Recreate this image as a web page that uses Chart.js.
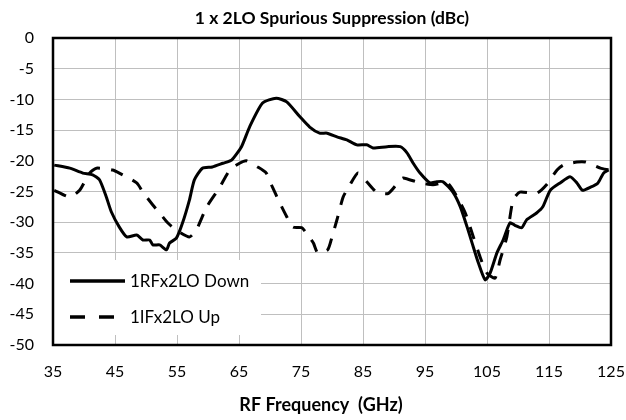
<!DOCTYPE html>
<html><head><meta charset="utf-8">
<script src="https://cdn.jsdelivr.net/npm/chart.js@4"></script>
<style>html,body{margin:0;padding:0;background:#fff}#wrap{width:626px;height:420px}</style>
</head><body><div id="wrap"><canvas id="c" width="626" height="420"></canvas></div>
<script>
const titleText = "1 x 2LO Spurious Suppression (dBc)";
const xTitle = "RF Frequency  (GHz)";
const seriesNames = ["1RFx2LO Down", "1IFx2LO Up"];
const xTicks = [35,45,55,65,75,85,95,105,115,125];
const yTicks = [0,-5,-10,-15,-20,-25,-30,-35,-40,-45,-50];

const downFreq = [35.2,37.7,39.8,41.4,42.5,43.6,44.4,45.7,46.9,48.5,49.5,50.6,51.1,52.2,53.3,53.8,54.9,55.9,57.0,57.8,59.1,60.7,62.4,63.8,65.4,66.7,68.8,71.0,72.7,74.8,76.4,78.0,79.2,80.8,82.4,84.0,85.6,86.6,88.9,91.0,92.1,93.1,94.2,95.8,96.9,97.9,99.5,100.7,101.8,102.6,103.6,104.7,105.5,106.6,107.6,108.7,109.5,110.6,111.4,113.0,114.0,115.2,116.8,118.4,119.5,120.4,121.7,122.9,123.8,124.6];
const downDb = [-20.7,-21.2,-22.0,-22.3,-23.1,-25.9,-28.3,-30.8,-32.4,-32.1,-32.9,-32.9,-33.7,-33.7,-34.5,-33.4,-32.6,-30.1,-26.4,-23.1,-21.2,-21.0,-20.4,-19.9,-17.7,-14.5,-10.6,-9.8,-10.4,-12.8,-14.5,-15.5,-15.5,-16.1,-16.6,-17.4,-17.4,-17.9,-17.7,-17.7,-18.7,-20.4,-22.0,-23.6,-23.4,-23.4,-25.1,-27.5,-30.8,-33.4,-36.6,-39.4,-38.3,-35.0,-32.9,-30.1,-30.5,-30.9,-29.6,-28.5,-27.5,-24.8,-23.6,-22.6,-23.6,-24.8,-24.3,-23.6,-22.0,-21.5];

const upFreq = [35.2,37.7,39.3,40.9,42.0,44.6,45.7,48.5,49.5,51.1,52.2,53.5,54.9,57.0,58.1,59.8,61.9,63.5,65.1,66.2,68.0,69.4,70.4,71.6,72.7,73.7,75.1,75.9,77.0,77.7,79.3,80.0,80.8,81.8,82.9,84.2,85.6,87.2,89.1,91.0,91.5,94.2,96.3,98.6,100.2,101.5,102.8,103.9,105.0,106.3,107.1,108.2,109.2,110.3,113.0,114.6,116.3,117.3,119.5,120.9,123.3,124.6];
const upDb = [-24.8,-25.9,-24.8,-22.0,-21.2,-21.5,-22.0,-23.6,-25.1,-27.2,-28.5,-30.1,-31.3,-32.4,-31.3,-27.5,-24.3,-21.5,-20.4,-20.0,-21.0,-22.0,-24.3,-26.9,-29.1,-30.8,-30.9,-31.8,-33.4,-35.0,-34.5,-32.4,-29.6,-25.9,-23.9,-22.0,-23.4,-25.1,-25.3,-23.1,-22.8,-23.6,-23.9,-23.6,-25.9,-28.5,-32.4,-35.7,-38.3,-39.1,-36.2,-32.4,-26.4,-25.1,-25.3,-23.9,-21.5,-20.7,-20.2,-20.2,-21.2,-21.5];

const FONT = "Lato";
const toPts = (xs, ys) => xs.map((x, i) => ({x: x, y: ys[i]}));

const frame = {
  id: 'frame',
  afterDatasetsDraw(chart) {
    const {ctx, chartArea: a} = chart;
    ctx.save();
    // legend box (inside the plot, lower left)
    const lx = a.left + 1, ly = a.top + 222, lw = 207, lh = 75;
    ctx.fillStyle = '#fff';
    ctx.fillRect(lx, ly, lw, lh);
    ctx.strokeStyle = '#000';
    ctx.lineWidth = 3.5;
    ctx.lineCap = 'butt';
    ctx.font = '17px ' + FONT;
    ctx.fillStyle = '#000';
    ctx.textBaseline = 'middle';
    ctx.textAlign = 'left';
    const rows = [a.top + 243, a.top + 279];
    rows.forEach((yy, i) => {
      ctx.setLineDash(i === 0 ? [] : [15, 14]);
      ctx.beginPath();
      ctx.moveTo(a.left + 17, yy);
      ctx.lineTo(a.left + 72, yy);
      ctx.stroke();
      ctx.fillText(seriesNames[i], a.left + 77, yy + 1);
    });
    ctx.setLineDash([]);
    // plot frame
    ctx.lineWidth = 2.5;
    ctx.strokeRect(a.left, a.top, a.right - a.left, a.bottom - a.top);
    // x axis title
    ctx.font = 'bold 18px ' + FONT;
    ctx.textAlign = 'center';
    ctx.fillText(xTitle, 321, 405);
    ctx.restore();
  }
};

new Chart(document.getElementById('c'), {
  type: 'line',
  data: {
    datasets: [
      {label: seriesNames[0], data: toPts(downFreq, downDb), borderColor: '#000', borderWidth: 3, pointRadius: 0, tension: 0.2, fill: false},
      {label: seriesNames[1], data: toPts(upFreq, upDb), borderColor: '#000', borderWidth: 3, borderDash: [13, 11], pointRadius: 0, tension: 0.2, fill: false}
    ]
  },
  options: {
    responsive: false,
    animation: false,
    layout: {padding: {left: 0, right: 15, top: 0, bottom: 0}},
    plugins: {
      legend: {display: false},
      tooltip: {enabled: false},
      title: {display: true, fullSize: false, text: titleText, color: '#000', font: {family: FONT, size: 17.5, weight: 'bold'}, padding: {top: 8, bottom: 9}}
    },
    scales: {
      x: {
        type: 'linear', min: 35, max: 125,
        afterBuildTicks(s) { s.ticks = xTicks.map(v => ({value: v})); },
        afterFit(s) { s.height = 75; s.paddingLeft = 0; s.paddingRight = 0; },
        grid: {color: '#bfbfbf', lineWidth: 1, drawTicks: false},
        border: {display: false},
        ticks: {color: '#000', font: {family: FONT, size: 16}, padding: 17}
      },
      y: {
        min: -50, max: 0,
        afterBuildTicks(s) { s.ticks = yTicks.map(v => ({value: v})); },
        afterFit(s) { s.width = 53; },
        grid: {color: '#bfbfbf', lineWidth: 1, drawTicks: false},
        border: {display: false},
        ticks: {color: '#000', font: {family: FONT, size: 16}, padding: 19}
      }
    }
  },
  plugins: [frame]
});
</script></body></html>
